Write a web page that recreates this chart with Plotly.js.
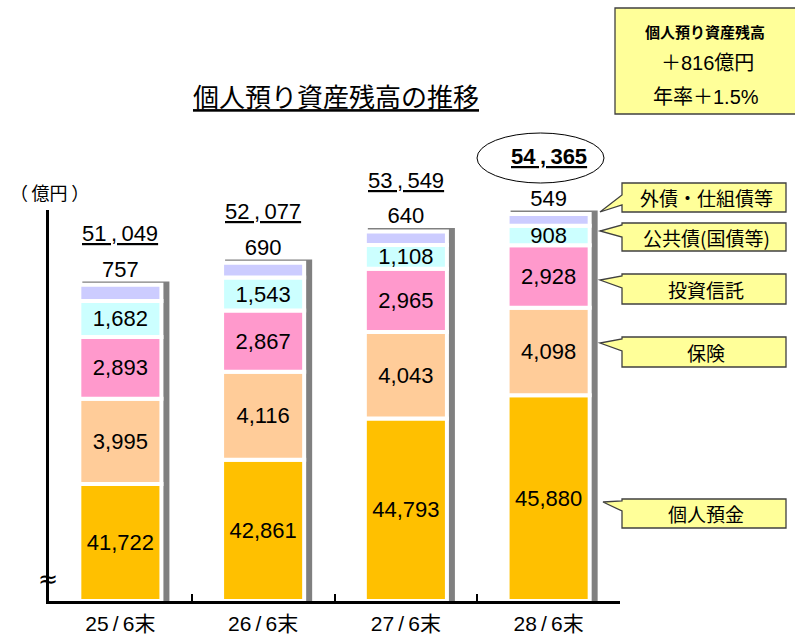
<!DOCTYPE html>
<html><head><meta charset="utf-8">
<script src="https://cdn.plot.ly/plotly-3.0.1.min.js"></script>
<style>body{margin:0;background:#fff}</style>
</head><body><div id="chart" style="width:795px;height:640px"></div>
<script>
// ---- data ----
const categories = ['25/6末', '26/6末', '27/6末', '28/6末'];
const deposits = [41722, 42861, 44793, 45880];
const insurance = [3995, 4116, 4043, 4098];
const investTrust = [2893, 2867, 2965, 2928];
const publicBonds = [1682, 1543, 1108, 908];
const foreignBonds = [757, 690, 640, 549];
const totals = [51049, 52077, 53549, 54365];
const seriesNames = ['個人預金', '保険', '投資信託', '公共債(国債等)', '外債・仕組債等'];
const unitLabel = '（\u2009億円\u2009）';
const chartTitle = '個人預り資産残高の推移';
const summaryLines = ['個人預り資産残高', '＋816億円', '年率＋1.5%'];

// ---- styling / geometry ----
const colors = ['#FFC000', '#FFCC99', '#FF99CC', '#CCFFFF', '#CCCCFF'];
const axisMin = 36250, axisMax = 54550;
const NUM_FONT = "'Liberation Sans', 'Noto Sans CJK JP', sans-serif";
const JP_FONT = "'Noto Sans CJK JP', sans-serif";
const L = 49, R = 620, T = 210, B = 601;
const px = p => (p - L) / (R - L);
const py = p => (B - p) / (B - T);
const fmt = n => n.toLocaleString('en-US');

const series = [deposits, insurance, investTrust, publicBonds, foreignBonds];
const barWidth = 0.575;

// cumulative bases
const bases = [];
let run = categories.map(() => axisMin);
series.forEach((s, i) => {
  bases.push(run.slice());
  run = run.map((v, j) => (i === 0 ? s[j] : v + s[j]));
});
const stackTops = run;

const traces = [];
// shadow
traces.push({
  type: 'bar', x: categories,
  y: stackTops.map(t => t - axisMin + 160), base: axisMin,
  width: 0.61, offset: -0.2665,
  marker: {color: '#808080', line: {width: 0}},
  hoverinfo: 'skip', showlegend: false
});
series.forEach((s, i) => {
  traces.push({
    type: 'bar', name: seriesNames[i], x: categories,
    y: s.map((v, j) => i === 0 ? v - axisMin : v),
    base: bases[i],
    width: barWidth,
    text: s.map(fmt),
    textposition: i === 4 ? 'outside' : 'inside',
    insidetextanchor: 'middle',
    textfont: {family: NUM_FONT, size: 22, color: '#000'},
    marker: {color: colors[i], line: {color: '#fff', width: 4}},
    cliponaxis: false,
    showlegend: false,
    hovertemplate: seriesNames[i] + ': %{text}<extra></extra>'
  });
});

const annotations = [];
const note = (x, y, text, font) => annotations.push({x: px(x), y: py(y), xref: 'paper', yref: 'paper',
  text: text, showarrow: false, xanchor: 'center', yanchor: 'middle', font: font});
// totals
totals.forEach((t, j) => {
  const label = fmt(t).replace(',', '\u2009,\u2009');
  annotations.push({
    x: categories[j], y: stackTops[j], xref: 'x', yref: 'y',
    text: j === 3 ? '<b><u>' + label + '</u></b>' : '<u>' + label + '</u>',
    showarrow: false, yshift: j === 3 ? 58 : 51, xanchor: 'center', yanchor: 'middle',
    font: {family: NUM_FONT, size: 22, color: '#000'}
  });
});
note(49, 192, unitLabel, {family: JP_FONT, size: 18, color: '#000'});
note(48, 579, '≈', {family: 'DejaVu Sans, sans-serif', size: 24, color: '#000'});
note(705, 31, '<b>' + summaryLines[0] + '</b>', {family: JP_FONT, size: 15, color: '#000'});
note(707, 63, summaryLines[1], {family: NUM_FONT, size: 20, color: '#000'});
note(706, 97, summaryLines[2], {family: NUM_FONT, size: 20, color: '#000'});

// callouts: [boxTop, boxBottom, tipX, tipY, baseUpper, baseLower, seriesIndex]
const callouts = [
  [183, 212, 600, 212, 195, 205, 4],
  [223, 251, 600, 231, 225, 237, 3],
  [274, 304, 600, 280, 276, 288, 2],
  [337, 367, 600, 343, 339, 351, 1],
  [499, 528, 603, 502, 501, 511, 0]
];
const boxL = 622, boxR = 786;
const shapes = [];
callouts.forEach(c => {
  const [t, b, tx, ty, bu, bl, si] = c;
  const path = 'M' + px(boxL) + ',' + py(t) +
    ' L' + px(boxR) + ',' + py(t) +
    ' L' + px(boxR) + ',' + py(b) +
    ' L' + px(boxL) + ',' + py(b) +
    ' L' + px(boxL) + ',' + py(bl) +
    ' L' + px(tx) + ',' + py(ty) +
    ' L' + px(boxL) + ',' + py(bu) + ' Z';
  shapes.push({type: 'path', xref: 'paper', yref: 'paper', path: path,
    fillcolor: '#FFFF99', line: {color: '#404040', width: 1.3}});
  note((boxL + boxR) / 2 + 2, (t + b) / 2, seriesNames[si], {family: JP_FONT, size: 19, color: '#000'});
});
// summary box
shapes.push({type: 'rect', xref: 'paper', yref: 'paper', x0: px(615), x1: px(805), y0: py(114), y1: py(8),
  fillcolor: '#FFFF99', line: {color: '#404040', width: 1.3}, layer: 'below'});
// ellipse around last total
shapes.push({type: 'circle', xref: 'paper', yref: 'paper', x0: px(477), x1: px(604), y0: py(183), y1: py(133),
  line: {color: '#000', width: 1}, fillcolor: 'rgba(0,0,0,0)'});

const layout = {
  width: 795, height: 640,
  margin: {l: L, r: 795 - R, t: T, b: 640 - B},
  paper_bgcolor: '#fff', plot_bgcolor: '#fff',
  barmode: 'overlay',
  showlegend: false,
  title: {text: '<u>' + chartTitle + '</u>', x: 336 / 795, xref: 'container', xanchor: 'center',
    y: 1 - 98 / 640, yref: 'container', yanchor: 'middle',
    font: {family: JP_FONT, size: 26, color: '#000'}},
  xaxis: {type: 'category', range: [-0.5, 3.5], showline: true, linecolor: '#000', linewidth: 3,
    ticks: 'inside', tickson: 'boundaries', ticklen: 7, tickwidth: 2, tickcolor: '#000',
    tickvals: categories, ticktext: categories.map(c => c.replace('/', '\u2009/\u2009')),
    ticklabelstandoff: 2,
    tickfont: {family: NUM_FONT, size: 21, color: '#000'}, showgrid: false, zeroline: false, fixedrange: true},
  yaxis: {range: [axisMin, axisMax], showline: true, linecolor: '#000', linewidth: 3,
    showticklabels: false, ticks: '', showgrid: false, zeroline: false, fixedrange: true},
  uniformtext: {mode: 'show', minsize: 22},
  annotations: annotations,
  shapes: shapes
};
Plotly.newPlot('chart', traces, layout, {displayModeBar: false, staticPlot: true});
</script>
</body></html>
